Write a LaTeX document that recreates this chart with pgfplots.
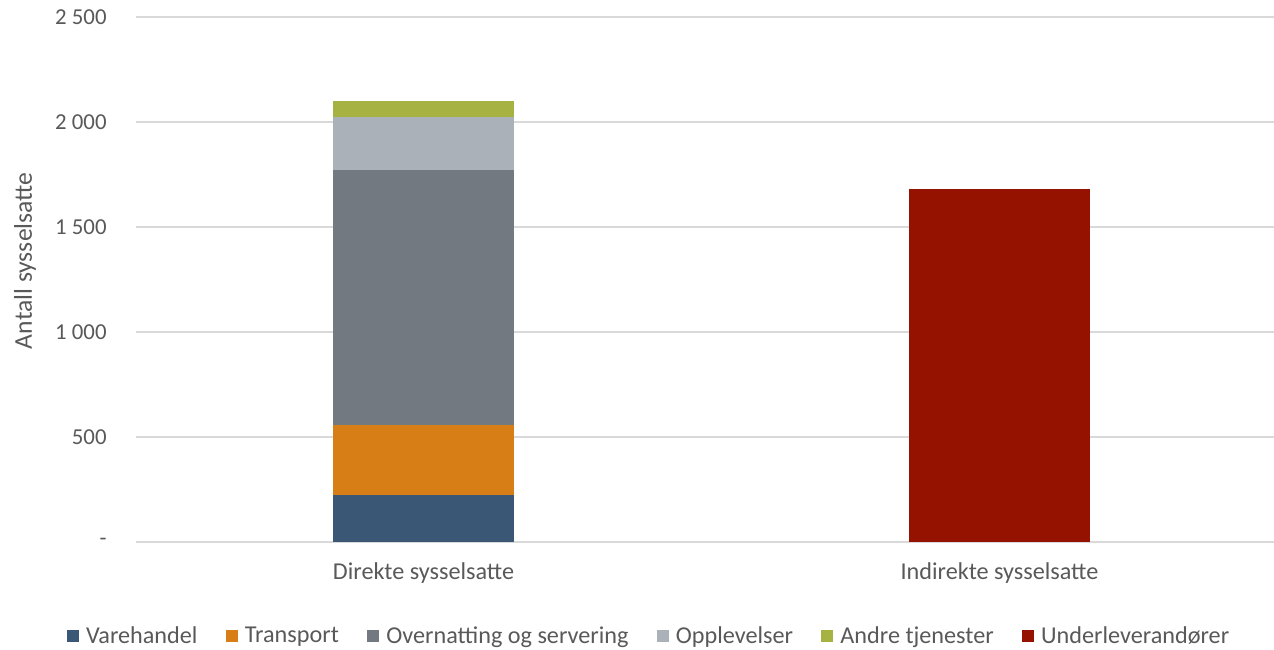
\documentclass[border=0pt]{standalone}
\usepackage{pgfplots}
\pgfplotsset{compat=1.18}
\usepackage{fontspec}
\setmainfont{Carlito}
\definecolor{txt}{HTML}{595959}
\definecolor{gridc}{HTML}{D9D9D9}
\definecolor{c1}{HTML}{3A5875}
\definecolor{c2}{HTML}{D77E17}
\definecolor{c3}{HTML}{727980}
\definecolor{c4}{HTML}{AAB1B8}
\definecolor{c5}{HTML}{A6B241}
\definecolor{c6}{HTML}{961200}
\begin{document}
\begin{tikzpicture}
\useasboundingbox (-67.75pt,-53.65pt) rectangle (569.25pt,270.85pt);
\begin{axis}[
  at={(0,0)}, anchor=south west,
  scale only axis, width=569.25pt, height=262.5pt,
  ybar stacked, bar width=90.5pt,
  xmin=-0.5, xmax=1.4766, ymin=0, ymax=2500,
  xtick={0,1}, xticklabels={Direkte sysselsatte, Indirekte sysselsatte},
  ytick={0,500,1000,1500,2000,2500},
  yticklabels={-, 500, 1 000, 1 500, 2 000, 2 500},
  axis line style={draw=none}, major tick style={draw=none},
  xmajorgrids=false, ymajorgrids=true, grid style={draw=gridc, line width=0.8pt},
  font=\fontsize{11.5}{13}\selectfont,
  yticklabel style={anchor=east, inner sep=0pt, xshift=-14.25pt, text=txt, font=\fontsize{11.4}{13}\selectfont},
  xticklabel style={anchor=center, inner sep=0pt, yshift=-15.6pt, text=txt, font=\fontsize{12.1}{14}\selectfont},
  ylabel={Antall sysselsatte},
  every axis y label/.style={at={(rel axis cs:0,0.535)}, xshift=-55.25pt, rotate=90, anchor=center, text=txt, font=\fontsize{12.8}{15}\selectfont},
  legend columns=-1,
  legend style={at={(rel axis cs:0.452,-0.18)}, anchor=center, draw=none, fill=none, text=txt, font=\fontsize{12.1}{14}\selectfont,
    /tikz/every even column/.append style={column sep=12.2pt},
    /tikz/every odd column/.append style={column sep=1.5pt}, inner sep=0pt},
  legend image code/.code={\fill[#1] (0pt,-3pt) rectangle (6pt,3pt);},
  clip=false,
]
\addplot[fill=c1, draw=none] coordinates {(0,222) (1,0)};
\addlegendentry{Varehandel}
\addplot[fill=c2, draw=none] coordinates {(0,334) (1,0)};
\addlegendentry{Transport}
\addplot[fill=c3, draw=none] coordinates {(0,1214) (1,0)};
\addlegendentry{Overnatting og servering}
\addplot[fill=c4, draw=none] coordinates {(0,252) (1,0)};
\addlegendentry{Opplevelser}
\addplot[fill=c5, draw=none] coordinates {(0,77) (1,0)};
\addlegendentry{Andre tjenester}
\addplot[fill=c6, draw=none] coordinates {(0,0) (1,1680)};
\addlegendentry{Underleverandører}
\end{axis}
\end{tikzpicture}
\end{document}
